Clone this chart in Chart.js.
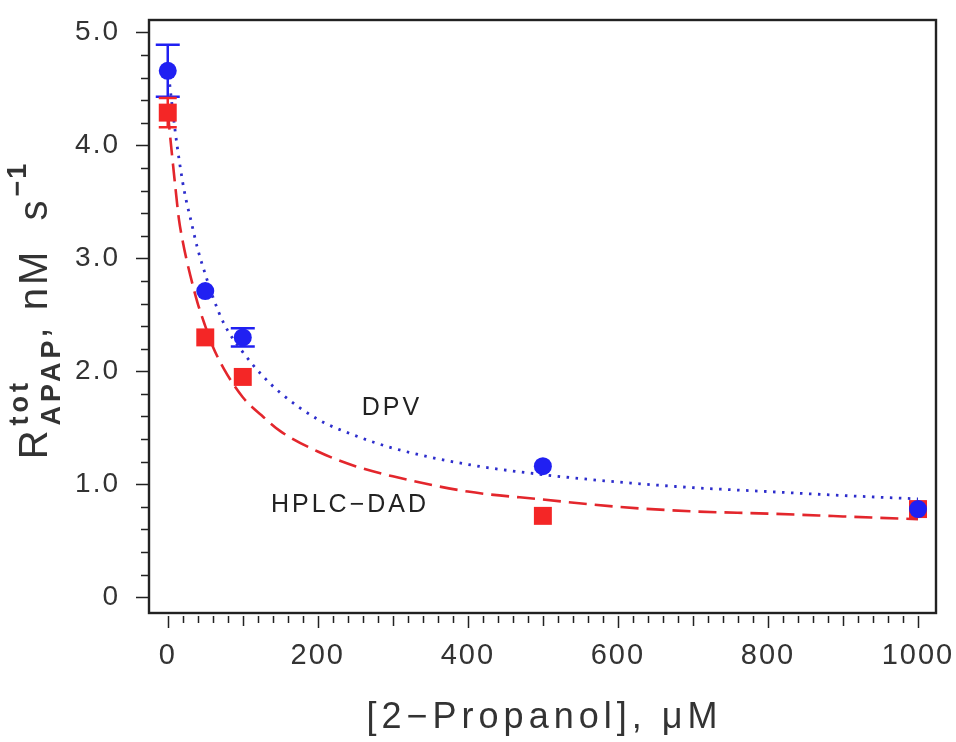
<!DOCTYPE html>
<html>
<head>
<meta charset="utf-8">
<script src="https://cdn.jsdelivr.net/npm/chart.js@4.4.1/dist/chart.umd.min.js"></script>
<style>
  html, body { margin: 0; padding: 0; background: #fff; }
  canvas { display: block; }
</style>
</head>
<body>
<canvas id="propanolChart" width="956" height="742"></canvas>
<script>
// measured rates (nM/s) vs 2-propanol (uM)
const concentrations = [0, 50, 100, 500, 1000];
const dpvRates = [4.66, 2.71, 2.30, 1.16, 0.78];
const dpvErrors = [0.23, 0, 0.08, 0, 0];
const hplcRates = [4.29, 2.30, 1.95, 0.72, 0.78];
const hplcErrors = [0.13, 0, 0, 0, 0];

// fitted curves
const fitX = [0, 5, 10, 15, 20, 25, 30, 40, 50, 60, 75, 100, 125, 150, 200, 250, 300, 400, 500, 600, 700, 800, 900, 1000];
const dpvFit = [4.70, 4.40, 4.12, 3.88, 3.67, 3.50, 3.36, 3.08, 2.86, 2.66, 2.42, 2.17, 1.97, 1.81, 1.575, 1.43, 1.32, 1.175, 1.085, 1.02, 0.97, 0.935, 0.90, 0.87];
const hplcFit = [4.30, 3.96, 3.64, 3.34, 3.15, 2.99, 2.85, 2.60, 2.40, 2.22, 2.02, 1.77, 1.61, 1.47, 1.29, 1.16, 1.07, 0.935, 0.865, 0.80, 0.76, 0.74, 0.715, 0.69];

const xTickValues = [0, 200, 400, 600, 800, 1000];
const yTickValues = [0, 1, 2, 3, 4, 5];

const BLUE = '#2020f2';
const BLUE_LINE = '#2d2dcc';
const RED = '#f42626';
const RED_LINE = '#e3262c';
const INK = '#222';
const FONT = "'Liberation Sans', Arial, sans-serif";

const pts = (xs, ys) => xs.map((v, i) => ({ x: v, y: ys[i] }));

// wider letter spacing for the tick labels
const spacing = {
    id: 'spacing',
    beforeLayout(chart) { chart.ctx.letterSpacing = '2px'; },
    beforeDraw(chart) { chart.ctx.letterSpacing = '2px'; }
};

// error bars under the markers
const errorBars = {
    id: 'errorBars',
    beforeDatasetsDraw(chart) {
        const { ctx, scales: { x, y } } = chart;
        const sets = [
            [dpvRates, dpvErrors, BLUE, 12],
            [hplcRates, hplcErrors, RED, 9]
        ];
        ctx.save();
        ctx.lineWidth = 2.5;
        sets.forEach(([vals, errs, color, cap]) => {
            ctx.strokeStyle = color;
            vals.forEach((v, i) => {
                if (!errs[i]) return;
                const px = x.getPixelForValue(concentrations[i]);
                const top = y.getPixelForValue(v + errs[i]);
                const bot = y.getPixelForValue(v - errs[i]);
                ctx.beginPath();
                ctx.moveTo(px, top); ctx.lineTo(px, bot);
                ctx.moveTo(px - cap, top); ctx.lineTo(px + cap, top);
                ctx.moveTo(px - cap, bot); ctx.lineTo(px + cap, bot);
                ctx.stroke();
            });
        });
        ctx.restore();
    }
};

// frame, tick marks, curve labels, axis titles
const frame = {
    id: 'frame',
    afterDraw(chart) {
        const { ctx, chartArea: a, scales: { x, y } } = chart;
        ctx.save();
        ctx.strokeStyle = INK;
        ctx.lineWidth = 2.4;
        ctx.strokeRect(a.left, a.top, a.right - a.left, a.bottom - a.top);

        ctx.lineWidth = 1.5;
        ctx.beginPath();
        // y ticks every 0.2
        for (let k = 0; k <= 25; k++) {
            const py = Math.round(y.getPixelForValue(k * 0.2)) + 0.5;
            const len = k % 5 === 0 ? 13 : 8;
            ctx.moveTo(a.left, py); ctx.lineTo(a.left - len, py);
        }
        // x ticks every 20
        for (let k = 0; k <= 50; k++) {
            const px = Math.round(x.getPixelForValue(k * 20)) + 0.5;
            const len = k % 10 === 0 ? 12 : (k % 5 === 0 ? 10 : 7);
            ctx.moveTo(px, a.bottom + 3); ctx.lineTo(px, a.bottom + 3 + len);
        }
        ctx.stroke();

        ctx.fillStyle = INK;
        ctx.textAlign = 'center';
        ctx.textBaseline = 'middle';

        // curve labels
        ctx.font = '25px ' + FONT;
        ctx.letterSpacing = '3px';
        ctx.fillText('DPV', 392, 408);
        ctx.fillText('HPLC\u2212DAD', 350, 505);

        // x title
        ctx.fillStyle = '#333';
        ctx.font = '36px ' + FONT;
        ctx.letterSpacing = '5px';
        ctx.fillText('[2\u2212Propanol], \u03bcM', (a.left + a.right) / 2 + 2, 718);

        // y title: R^tot_APAP, nM s^-1, centred on the plot height
        const big = '40px ' + FONT;
        const small = 'bold 27px ' + FONT;
        ctx.textAlign = 'left';
        ctx.textBaseline = 'alphabetic';
        ctx.font = big; ctx.letterSpacing = '2px';
        const wR = ctx.measureText('R').width + 3;
        ctx.font = small; ctx.letterSpacing = '4px';
        const wSub = ctx.measureText('APAP').width - 2;
        ctx.font = big; ctx.letterSpacing = '3px';
        const wMid = ctx.measureText(', nM  s').width + 1;
        ctx.font = small; ctx.letterSpacing = '2px';
        const wExp = ctx.measureText('\u22121').width;
        const total = wR + wSub + wMid + wExp;

        ctx.translate(47, (a.top + a.bottom) / 2 + total / 2 - 6);
        ctx.rotate(-Math.PI / 2);
        ctx.font = big; ctx.letterSpacing = '2px';
        ctx.fillText('R', 0, 0);
        let cx = wR;
        ctx.font = small; ctx.letterSpacing = '4px';
        ctx.fillText('tot', cx, -19);
        ctx.fillText('APAP', cx, 13);
        cx += wSub;
        ctx.font = big; ctx.letterSpacing = '3px';
        ctx.fillText(', nM  s', cx, 0);
        cx += wMid;
        ctx.font = small; ctx.letterSpacing = '2px';
        ctx.fillText('\u22121', cx, -21);
        ctx.restore();
    }
};

const ctx = document.getElementById('propanolChart').getContext('2d');
const chart = new Chart(ctx, {
    type: 'scatter',
    data: {
        datasets: [
            {
                label: 'DPV',
                data: pts(concentrations, dpvRates),
                pointStyle: 'circle',
                pointRadius: 9,
                backgroundColor: BLUE,
                borderColor: BLUE,
                borderWidth: 0,
                order: 0
            },
            {
                label: 'HPLC-DAD',
                data: pts(concentrations, hplcRates),
                pointStyle: 'rect',
                pointRadius: 12.7,
                backgroundColor: RED,
                borderColor: RED,
                borderWidth: 0,
                order: 1
            },
            {
                label: 'DPV fit',
                data: pts(fitX, dpvFit),
                showLine: true,
                pointRadius: 0,
                borderColor: BLUE_LINE,
                borderWidth: 2.8,
                borderDash: [2.5, 6.5],
                cubicInterpolationMode: 'monotone',
                order: 2
            },
            {
                label: 'HPLC fit',
                data: pts(fitX, hplcFit),
                showLine: true,
                pointRadius: 0,
                borderColor: RED_LINE,
                borderWidth: 2.6,
                borderDash: [18, 8],
                cubicInterpolationMode: 'monotone',
                order: 3
            }
        ]
    },
    options: {
        responsive: false,
        devicePixelRatio: 1,
        animation: false,
        layout: { padding: { top: 20, right: 20, left: 0, bottom: 0 } },
        plugins: { legend: { display: false }, tooltip: { enabled: false } },
        scales: {
            x: {
                type: 'linear',
                min: -25,
                max: 1024,
                afterBuildTicks: s => { s.ticks = xTickValues.map(v => ({ value: v })); },
                afterFit: s => {
                    s.height = 129;
                    s.paddingLeft = s.paddingRight = s.paddingTop = s.paddingBottom = 0;
                },
                grid: { display: false, drawTicks: false },
                border: { display: false },
                ticks: {
                    autoSkip: false,
                    maxRotation: 0,
                    padding: 26,
                    color: '#333',
                    font: { family: FONT, size: 29 },
                    callback: v => String(v)
                }
            },
            y: {
                type: 'linear',
                min: -0.14,
                max: 5.11,
                afterBuildTicks: s => { s.ticks = yTickValues.map(v => ({ value: v })); },
                afterFit: s => {
                    s.width = 149;
                    s.paddingLeft = s.paddingRight = s.paddingTop = s.paddingBottom = 0;
                },
                grid: { display: false, drawTicks: false },
                border: { display: false },
                ticks: {
                    autoSkip: false,
                    padding: 29,
                    color: '#333',
                    font: { family: FONT, size: 28 },
                    callback: v => (v === 0 ? '0' : v.toFixed(1))
                }
            }
        }
    },
    plugins: [spacing, errorBars, frame]
});
</script>
</body>
</html>
